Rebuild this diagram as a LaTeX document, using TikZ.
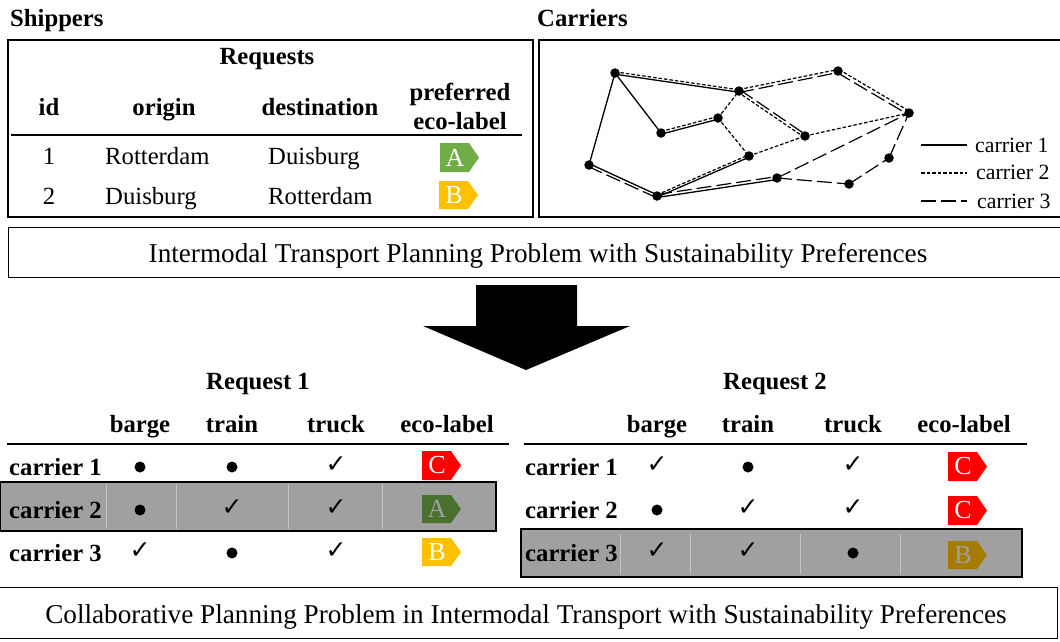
\documentclass[tikz,border=0pt]{standalone}
\usepackage{fontspec}
\setmainfont{Liberation Serif}
\newfontfamily\symfont{DejaVu Sans}
\definecolor{ecoA}{HTML}{70AD47}
\definecolor{ecoB}{HTML}{FFC000}
\definecolor{ecoC}{HTML}{FF0000}
\definecolor{ecoAd}{HTML}{4A7030}
\definecolor{ecoBd}{HTML}{A67C00}
\definecolor{rowgray}{HTML}{A0A0A0}
\tikzset{
  x=1pt,y=-1pt,
  fixedline/.style={text height=20.5pt,text depth=3pt},
  boxline/.style={draw=black,line width=2pt},
  rulerline/.style={draw=black,line width=2.6pt},
  sepline/.style={draw=white!40!rowgray,line width=0.8pt},
  banner/.style={draw=black,line width=1.4pt,fill=white},
  body/.style={font=\fontsize{27.2}{29}\selectfont,inner sep=0pt,text=black,fixedline},
  rowtext/.style={font=\fontsize{24.7}{27}\selectfont,inner sep=0pt,text=black,fixedline},
  head/.style={font=\fontsize{24.7}{27}\selectfont\bfseries,inner sep=0pt,text=black,fixedline},
  legendtext/.style={font=\fontsize{21.8}{24}\selectfont,inner sep=0pt,anchor=west,fixedline},
  check/.style={font=\symfont\fontsize{25}{27}\selectfont,inner sep=0pt},
  dotmark/.style={circle,fill=black,inner sep=0pt,minimum size=11pt},
  vertex/.style={circle,fill=black,inner sep=0pt,minimum size=9.5pt},
  carone/.style={line width=1.3pt,black},
  cartwo/.style={line width=1.2pt,black,dash pattern=on 3.5pt off 2pt},
  carthree/.style={line width=1.2pt,black,dash pattern=on 15pt off 5pt},
}
% \ecolabel{name}{left}{top}{bottom}{letter}{fill}{letter colour}
\newcommand{\ecolabel}[7]{%
  \fill[#6] (#2,#3) -- ++(29,0) -- ({#2+39},{(#3+#4)/2}) -- ({#2+29},#4) -- (#2,#4) -- cycle;
  \node[inner sep=0pt,text=#7,font=\fontsize{26}{28}\selectfont] (#1) at ({#2+15},{(#3+#4)/2}) {#5};
}
\begin{document}
\begin{tikzpicture}
\useasboundingbox (0,0) rectangle (1060,641);
\fill[white] (0,0) rectangle (1060,641);
% titles
\node[head,anchor=west] (shippers) at (10,18) {Shippers};
\node[head,anchor=west] (carriers) at (537,18) {Carriers};
% frames
\draw[boxline] (8,40) rectangle (533,217);
\draw[boxline] (539,40) rectangle (1062,217);
% requests table
\node[head] (req) at (267,56) {Requests};
\node[head] (hid) at (49,107) {id};
\node[head] (horigin) at (164,107) {origin};
\node[head] (hdest) at (320,107) {destination};
\node[head] (hpref) at (460,92) {preferred};
\node[head] (heco) at (460,121) {eco-label};
\draw[rulerline] (11,135) -- (522,135);
\node[rowtext] (r1id) at (49,156) {1};
\node[rowtext,anchor=west] (r1o) at (105,156) {Rotterdam};
\node[rowtext,anchor=west] (r1d) at (268,156) {Duisburg};
\node[rowtext] (r2id) at (49,196) {2};
\node[rowtext,anchor=west] (r2o) at (105,196) {Duisburg};
\node[rowtext,anchor=west] (r2d) at (268,196) {Rotterdam};
\ecolabel{la}{440}{143}{172}{A}{ecoA}{white}
\ecolabel{lb}{439}{181}{209}{B}{ecoB}{white}
% network
\node[vertex] (a) at (615,73) {};
\node[vertex] (b) at (589,165) {};
\node[vertex] (c) at (657,196) {};
\node[vertex] (d) at (661,133) {};
\node[vertex] (e) at (718,118) {};
\node[vertex] (f) at (739,91) {};
\node[vertex] (g) at (838,71) {};
\node[vertex] (h) at (909,113) {};
\node[vertex] (i) at (749,156) {};
\node[vertex] (j) at (805,136) {};
\node[vertex] (k) at (777,178) {};
\node[vertex] (l) at (849,184) {};
\node[vertex] (m) at (889,158) {};
% carrier 1
\draw[carone] (a.center) -- (b.center);
\draw[carone] ([yshift=1.2pt,xshift=0.5pt]b.center) -- ([yshift=1.2pt]c.center);
\draw[carone] (a.center) -- (d.center);
\draw[carone] ([yshift=-1.2pt]d.center) -- ([yshift=-1.2pt]e.center);
\draw[carone] ([yshift=-1.2pt]a.center) -- ([yshift=-1.2pt]f.center);
\draw[carone] ([yshift=-1.2pt]c.center) -- ([yshift=-1.2pt]i.center);
\draw[carone] ([yshift=-1.5pt]c.center) -- ([yshift=-1.5pt]k.center);
% carrier 2
\draw[cartwo] ([yshift=1.2pt]a.center) -- ([yshift=1.2pt]f.center);
\draw[cartwo] ([yshift=1.5pt]d.center) -- ([yshift=1.5pt]e.center);
\draw[cartwo] (e.center) -- (f.center);
\draw[cartwo] (e.center) -- (i.center);
\draw[cartwo] ([yshift=1.5pt]f.center) -- ([yshift=1.5pt]g.center);
\draw[cartwo] ([xshift=-1.2pt,yshift=-1pt]f.center) -- ([xshift=-1.2pt,yshift=-1pt]j.center);
\draw[cartwo] (j.center) -- (h.center);
\draw[cartwo] (i.center) -- (j.center);
\draw[cartwo] ([yshift=1.2pt]c.center) -- ([yshift=1.2pt]i.center);
\draw[cartwo] ([xshift=1pt,yshift=1.5pt]g.center) -- ([xshift=1pt,yshift=1.5pt]h.center);
% carrier 3
\draw[carthree] ([xshift=-0.8pt,yshift=-1.5pt]b.center) -- ([xshift=-0.8pt,yshift=-1.5pt]c.center);
\draw[carthree] ([yshift=1.5pt]c.center) -- ([yshift=1.5pt]k.center);
\draw[carthree] (k.center) -- (h.center);
\draw[carthree] (k.center) -- (l.center);
\draw[carthree] (l.center) -- (m.center);
\draw[carthree] (m.center) -- (h.center);
\draw[carthree] ([yshift=-1.5pt]f.center) -- ([yshift=-1.5pt]g.center);
\draw[carthree] ([xshift=-1pt,yshift=-1.5pt]g.center) -- ([xshift=-1pt,yshift=-1.5pt]h.center);
\draw[carthree] ([xshift=1.2pt,yshift=1pt]f.center) -- ([xshift=1.2pt,yshift=1pt]j.center);
% legend
\coordinate (l1a) at (921,145); \coordinate (l1b) at (967,145);
\coordinate (l2a) at (921,173); \coordinate (l2b) at (967,173);
\coordinate (l3a) at (921,201); \coordinate (l3b) at (967,201);
\draw[carone] (l1a) -- (l1b);
\draw[cartwo] (l2a) -- (l2b);
\draw[carthree] (l3a) -- (l3b);
\node[legendtext] (t1) at (975,144) {carrier 1};
\node[legendtext] (t2) at (976,171) {carrier 2};
\node[legendtext] (t3) at (977,200) {carrier 3};
% banner
\node[banner,minimum width=1056pt,minimum height=50pt,inner sep=0pt,anchor=north west] (bn1) at (8,227) {};
\node[body] (bn1t) at (538,254) {Intermodal Transport Planning Problem with Sustainability Preferences};
% big arrow
\fill[black] (476,285) -- (577,285) -- (577,326) -- (630,326) -- (526,370) -- (423,326) -- (476,326) -- cycle;
% left table
\node[head] (rq1) at (258,381) {Request 1};
\node[head] (lb1) at (140,424) {barge};
\node[head] (lt1) at (232,424) {train};
\node[head] (ltr1) at (336,424) {truck};
\node[head] (le1) at (447,424) {eco-label};
\draw[rulerline] (7,444) -- (509,444);
\node[head,anchor=west] (lc1) at (9,467) {carrier 1};
\node[head,anchor=west] (lc3) at (9,553) {carrier 3};
\node[dotmark] (l11) at (140,467) {};
\node[dotmark] (l12) at (232,467) {};
\node[check] (l13) at (336,465) {✓};
\ecolabel{lc}{422}{451}{480}{C}{ecoC}{white}
\node[check] (l31) at (140,551) {✓};
\node[dotmark] (l32) at (232,553) {};
\node[check] (l33) at (336,551) {✓};
\ecolabel{lbb}{422}{538}{566}{B}{ecoB}{white}
% left highlighted row
\draw[boxline,fill=rowgray] (0,482) rectangle (496,531);
\foreach \sx in {106,176,288,382} \draw[sepline] (\sx,484) -- (\sx,529);
\node[head,anchor=west] (lc2) at (9,510) {carrier 2};
\node[dotmark] (l21) at (140,510) {};
\node[check] (l22) at (232,508) {✓};
\node[check] (l23) at (336,508) {✓};
\ecolabel{lad}{422}{495}{523}{A}{ecoAd}{rowgray}
% right table
\node[head] (rq2) at (775,381) {Request 2};
\node[head] (rb1) at (657,424) {barge};
\node[head] (rt1) at (748,424) {train};
\node[head] (rtr1) at (853,424) {truck};
\node[head] (re1) at (964,424) {eco-label};
\draw[rulerline] (524,444) -- (1027,444);
\node[head,anchor=west] (rc1) at (525,467) {carrier 1};
\node[head,anchor=west] (rc2) at (525,510) {carrier 2};
\node[check] (r11) at (657,465) {✓};
\node[dotmark] (r12) at (748,467) {};
\node[check] (r13) at (853,465) {✓};
\ecolabel{rcc}{948}{452}{481}{C}{ecoC}{white}
\node[dotmark] (r21) at (657,510) {};
\node[check] (r22) at (748,508) {✓};
\node[check] (r23) at (853,508) {✓};
\ecolabel{rcd}{948}{496}{525}{C}{ecoC}{white}
% right highlighted row
\draw[boxline,fill=rowgray] (521,529) rectangle (1022,577);
\foreach \sx in {620,690,800,900} \draw[sepline] (\sx,534) -- (\sx,574);
\node[head,anchor=west] (rc3) at (525,553) {carrier 3};
\node[check] (r31) at (657,551) {✓};
\node[check] (r32) at (748,551) {✓};
\node[dotmark] (r33) at (853,553) {};
\ecolabel{rbd}{948}{541}{569}{B}{ecoBd}{rowgray}
% bottom banner
\node[banner,minimum width=1062pt,minimum height=51pt,inner sep=0pt,anchor=north west] (bn2) at (-5,587) {};
\node[body] (bn2t) at (526,615) {Collaborative Planning Problem in Intermodal Transport with Sustainability Preferences};
\end{tikzpicture}
\end{document}
